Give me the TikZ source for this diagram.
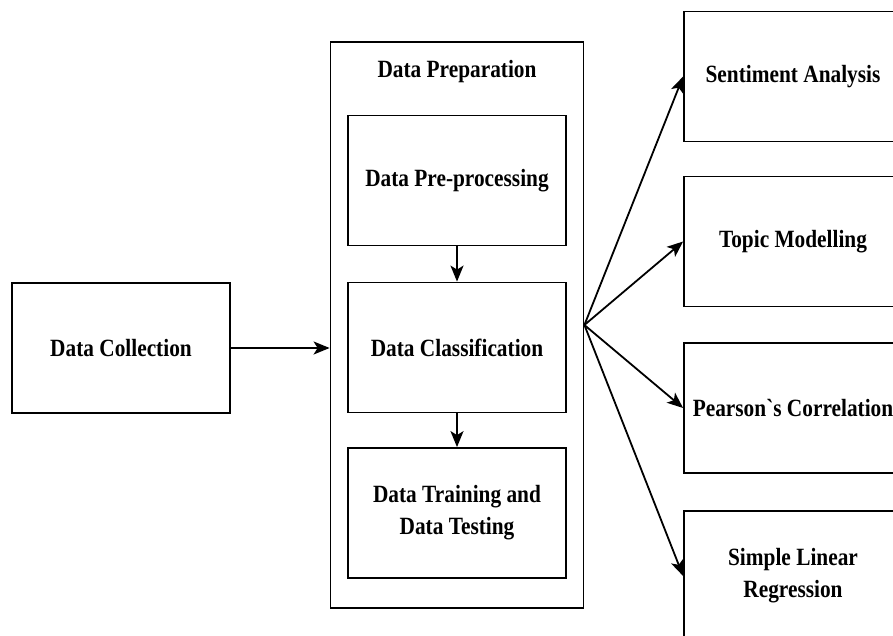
\documentclass[tikz,border=0pt]{standalone}
\usepackage{fontspec}
\setmainfont{Liberation Serif}[FakeStretch=0.86,Ligatures=TeXOff]
\usetikzlibrary{arrows.meta}

\begin{document}
\begin{tikzpicture}[x=1pt,y=-1pt,%%
  boxStyle/.style={draw,line width=1.8pt,minimum width=218pt,minimum height=130pt,%%
    align=center,inner sep=0pt,font=\fontsize{24.8}{32}\selectfont\bfseries},%%
  outerStyle/.style={draw,line width=1.8pt,minimum width=253pt,minimum height=566pt,inner sep=0pt},%%
  titleStyle/.style={font=\fontsize{24.8}{32}\selectfont\bfseries},%%
  arrowStyle/.style={-{Stealth[length=16pt,width=13pt,inset=4pt]},line width=1.8pt}%%
]
%%
\pgfmathsetmacro{\xmid}{457}
\pgfmathsetmacro{\xright}{793}
%%
%% Page frame.
\useasboundingbox (0,0) rectangle (893,636);
\clip (0,0) rectangle (893,636);
%%
%% The first step.
\node[boxStyle] (collection) at (121,348) {Data Collection};
%%
%% The preparation block and its three steps.
\node[outerStyle] (prep) at (\xmid,325) {};
\node[titleStyle] (prepTitle) at (\xmid,72) {Data Preparation};
\node[boxStyle] (preprocess) at (\xmid,180.5) {Data Pre-processing};
\node[boxStyle] (classify) at (\xmid,347.5) {Data Classification};
\node[boxStyle] (training) at (\xmid,513) {Data Training and\\Data Testing};
%%
%% The four analyses.
\node[boxStyle] (sentiment) at (\xright,76.5) {Sentiment Analysis};
\node[boxStyle] (topic) at (\xright,241.5) {Topic Modelling};
\node[boxStyle] (pearson) at (\xright,408) {Pearson`s Correlation};
\node[boxStyle] (regression) at (\xright,576) {Simple Linear\\Regression};
%%
%% Flow into and through the preparation block.
\draw[arrowStyle] (collection.east) -- (prep.west |- collection.east);
\draw[arrowStyle] (preprocess) -- (classify);
\draw[arrowStyle] (classify) -- (training);
%%
%% Fan out to the analyses.
\foreach \target in {sentiment,topic,pearson,regression}
  \draw[arrowStyle] (prep.east) -- (\target.west);
\end{tikzpicture}
\end{document}
